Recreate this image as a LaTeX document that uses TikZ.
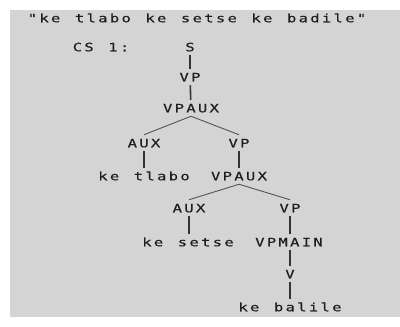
\documentclass[tikz,border=0pt]{standalone}
\usepackage{fontspec}
\newfontfamily\pixfont[FakeStretch=1.35,LetterSpace=20,WordSpace=1.25,FakeBold=0.35]{DejaVu Sans Mono}
\definecolor{panel}{HTML}{D4D4D4}
\definecolor{ink}{HTML}{1E1E1E}
\definecolor{edge}{HTML}{333333}
\begin{document}
\begin{tikzpicture}[x=1pt,y=-1pt,
  lbl/.style={font=\pixfont\fontsize{11.5}{12}\selectfont, text=ink, inner sep=0pt, outer sep=4pt, text height=8.5pt, text depth=0pt, anchor=center},
  vbr/.style={draw=edge, line width=1.6pt},
  dbr/.style={draw=edge!80!panel, line width=0.9pt}]
\useasboundingbox (0,0) rectangle (400,327);
\fill[white] (0,0) rectangle (400,327);
\fill[panel] (10,10) rectangle (400,317);
\node[lbl] (title) at (197,18) {"ke tlabo ke setse ke badile"};
\node[lbl] (cs) at (101,47) {CS 1:};
\node[lbl] (s) at (190,47) {S};
\node[lbl] (vp1) at (190,77) {VP};
\node[lbl] (vpaux1) at (191,108) {VPAUX};
\node[lbl] (aux1) at (144,143) {AUX};
\node[lbl] (vp2) at (239,143) {VP};
\node[lbl] (w1) at (144,176) {ke tlabo};
\node[lbl] (vpaux2) at (239,176) {VPAUX};
\node[lbl] (aux2) at (189,208) {AUX};
\node[lbl] (vp3) at (290,208) {VP};
\node[lbl] (w2) at (188,242) {ke setse};
\node[lbl] (vpmain) at (289,242) {VPMAIN};
\node[lbl] (v) at (290,274) {V};
\node[lbl] (w3) at (290,307) {ke balile};
\draw[vbr] (s) -- (vp1);
\draw[vbr] (vp1) -- (vpaux1);
\draw[dbr] (vpaux1.south) -- (aux1.north);
\draw[dbr] (vpaux1.south) -- (vp2.north);
\draw[vbr] (aux1) -- (w1);
\draw[vbr] (vp2) -- (vpaux2);
\draw[dbr] (vpaux2.south) -- (aux2.north);
\draw[dbr] (vpaux2.south) -- (vp3.north);
\draw[vbr] (aux2) -- (aux2 |- w2.north);
\draw[vbr] (vp3) -- (vp3 |- vpmain.north);
\draw[vbr] (vpmain.south -| v) -- (v);
\draw[vbr] (v) -- (w3);
\end{tikzpicture}
\end{document}
